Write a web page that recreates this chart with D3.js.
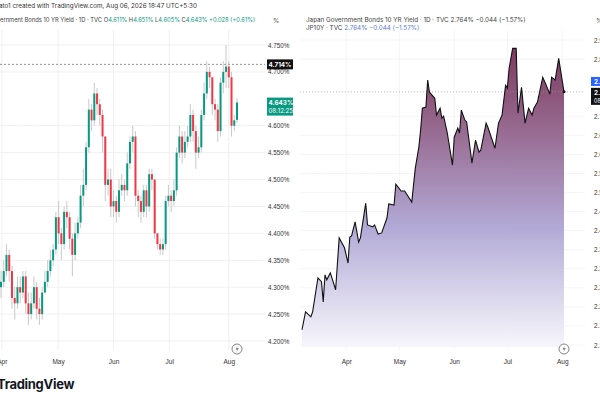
<!DOCTYPE html>
<html><head><meta charset="utf-8">
<script src="https://cdn.jsdelivr.net/npm/d3@7"></script>
<style>body{margin:0;background:#fff;overflow:hidden}svg{display:block;font-family:Inter,"Noto Sans",sans-serif}</style>
</head><body><svg id="c" width="600" height="400"></svg>
<script>
// ---- Left panel: US 10Y candles ----
const opens=[4.30,4.31,4.33,4.36,4.33,4.28,4.27,4.30,4.29,4.32,4.27,4.25,4.27,4.30,4.26,4.25,4.29,4.31,4.33,4.35,4.37,4.43,4.40,4.38,4.44,4.43,4.39,4.36,4.40,4.42,4.47,4.49,4.56,4.63,4.61,4.66,4.64,4.62,4.58,4.49,4.50,4.45,4.46,4.44,4.48,4.49,4.48,4.53,4.57,4.58,4.47,4.46,4.44,4.48,4.45,4.51,4.50,4.40,4.38,4.37,4.38,4.46,4.47,4.46,4.48,4.55,4.58,4.55,4.57,4.58,4.62,4.59,4.55,4.56,4.62,4.66,4.70,4.69,4.64,4.63,4.59,4.68,4.70,4.71,4.69,4.60,4.611];
const closes=[4.31,4.33,4.36,4.33,4.28,4.27,4.30,4.29,4.32,4.27,4.25,4.27,4.30,4.26,4.25,4.29,4.31,4.33,4.35,4.37,4.43,4.40,4.38,4.44,4.43,4.39,4.36,4.40,4.42,4.47,4.49,4.56,4.63,4.61,4.66,4.64,4.62,4.58,4.49,4.50,4.45,4.46,4.44,4.48,4.49,4.48,4.53,4.57,4.58,4.47,4.46,4.44,4.48,4.45,4.51,4.50,4.40,4.38,4.37,4.38,4.46,4.47,4.46,4.48,4.55,4.58,4.55,4.57,4.58,4.62,4.59,4.55,4.56,4.62,4.66,4.70,4.69,4.64,4.63,4.59,4.68,4.70,4.71,4.69,4.60,4.61,4.643];
const highs=[4.33,4.35,4.38,4.37,4.34,4.30,4.32,4.32,4.33,4.33,4.29,4.29,4.32,4.31,4.28,4.30,4.33,4.35,4.37,4.38,4.44,4.46,4.41,4.45,4.46,4.44,4.40,4.42,4.43,4.49,4.52,4.57,4.65,4.64,4.68,4.67,4.65,4.63,4.58,4.52,4.52,4.48,4.47,4.50,4.51,4.50,4.55,4.58,4.60,4.59,4.48,4.47,4.49,4.49,4.52,4.52,4.50,4.40,4.39,4.39,4.47,4.49,4.48,4.50,4.56,4.60,4.59,4.59,4.60,4.64,4.63,4.60,4.58,4.63,4.68,4.72,4.71,4.69,4.65,4.64,4.69,4.72,4.75,4.72,4.70,4.62,4.651];
const lows=[4.28,4.30,4.32,4.31,4.26,4.24,4.26,4.27,4.28,4.25,4.23,4.24,4.26,4.24,4.23,4.24,4.29,4.30,4.32,4.34,4.36,4.38,4.35,4.37,4.41,4.37,4.32,4.35,4.39,4.41,4.45,4.48,4.55,4.59,4.60,4.62,4.60,4.55,4.46,4.47,4.43,4.43,4.42,4.43,4.47,4.46,4.47,4.52,4.55,4.45,4.43,4.42,4.43,4.43,4.44,4.48,4.39,4.37,4.36,4.36,4.37,4.45,4.44,4.45,4.47,4.54,4.53,4.54,4.56,4.57,4.57,4.52,4.54,4.55,4.61,4.65,4.67,4.62,4.61,4.57,4.58,4.66,4.67,4.67,4.58,4.59,4.605];
const leftTicks=[4.20,4.25,4.30,4.35,4.40,4.45,4.50,4.55,4.60,4.70,4.75];
const months=["Apr","May","Jun","Jul","Aug"];
const leftMonthIdx=[0.3,20.8,41,61.3,83];
// ---- Right panel: Japan 10Y line ----
const jpDays=[-25,-23,-20,-19,-16,-14,-13,-12,-11,-9,-6,-4,-1,1,2,3,5,7,8,11,12,15,16,18,20,23,24,27,28,31,33,37,39,41,42,43,45,46,47,50,51,53,54,55,57,60,61,63,64,65,67,68,71,73,75,76,79,80,84,86,88,90,91,92,94,96,97,99,101,103,105,106,108,111,113,115,116,118,120,123];
const jpYield=[2.140,2.187,2.174,2.187,2.276,2.266,2.213,2.284,2.271,2.289,2.245,2.381,2.355,2.315,2.383,2.386,2.423,2.370,2.381,2.472,2.415,2.410,2.415,2.391,2.394,2.433,2.470,2.467,2.522,2.504,2.504,2.475,2.564,2.619,2.664,2.721,2.724,2.795,2.763,2.747,2.703,2.721,2.695,2.700,2.658,2.572,2.645,2.669,2.656,2.716,2.690,2.685,2.577,2.637,2.606,2.611,2.682,2.671,2.616,2.682,2.703,2.781,2.774,2.826,2.878,2.878,2.708,2.776,2.682,2.721,2.703,2.721,2.737,2.802,2.781,2.758,2.802,2.795,2.852,2.764];
const rightMonthDays=[0,30,61,91,122];
const rightTicks=[2.10,2.15,2.20,2.25,2.30,2.35,2.40,2.45,2.50,2.55,2.60,2.65,2.70,2.85,2.90];

const svg=d3.select("#c");
const grid="#f0f0f3", txt="#333", green="#089981", red="#f23645";
const yL=d3.scaleLinear().domain([4.20,4.75]).range([341,45]);
const xL=d3.scaleLinear().domain([0,86]).range([1,237]);
const gL=svg.append("g");
leftTicks.forEach(t=>gL.append("line").attr("x1",0).attr("x2",265).attr("y1",yL(t)).attr("y2",yL(t)).attr("stroke",grid));
leftMonthIdx.forEach(i=>gL.append("line").attr("x1",xL(i)).attr("x2",xL(i)).attr("y1",30).attr("y2",350).attr("stroke",grid));
gL.append("line").attr("x1",0).attr("x2",265).attr("y1",yL(4.714)).attr("y2",yL(4.714)).attr("stroke","#777").attr("stroke-dasharray","2,2").attr("stroke-width",0.8);
closes.forEach((c,i)=>{
  const o=opens[i], col=c>=o?green:red, x=xL(i);
  gL.append("line").attr("x1",x).attr("x2",x).attr("y1",yL(highs[i])).attr("y2",yL(lows[i])).attr("stroke","#bbb").attr("stroke-width",0.8);
  const y0=yL(Math.max(o,c)), h=Math.max(1,Math.abs(yL(o)-yL(c)));
  gL.append("rect").attr("x",x-1).attr("width",2).attr("y",y0).attr("height",h).attr("fill",col);
});
const axL=d3.axisRight(yL).tickValues(leftTicks).tickSize(0).tickFormat(d=>d3.format(".3f")(d)+"%");
svg.append("g").attr("transform","translate(268,0)").call(axL).call(g=>{g.select(".domain").remove();g.selectAll("text").attr("fill",txt).style("font-size","6.3px").attr("x",0);});
const xAxL=d3.axisBottom(xL).tickValues(leftMonthIdx).tickSize(0).tickFormat((d,i)=>months[i]);
svg.append("g").attr("transform","translate(0,356)").call(xAxL).call(g=>{g.select(".domain").remove();g.selectAll("text").attr("fill",txt).style("font-size","6.5px");});
svg.append("rect").attr("x",267).attr("y",yL(4.714)-5).attr("width",26).attr("height",10).attr("fill","#111");
svg.append("text").attr("x",268.5).attr("y",yL(4.714)+2.5).attr("fill","#fff").style("font-size","6.3px").style("font-weight","bold").text("4.714%");
svg.append("rect").attr("x",267).attr("y",yL(4.643)-5).attr("width",26).attr("height",18).attr("fill",green);
svg.append("text").attr("x",268.5).attr("y",yL(4.643)+2.5).attr("fill","#fff").style("font-size","6.3px").style("font-weight","bold").text("4.643%");
svg.append("text").attr("x",268.5).attr("y",yL(4.643)+10.5).attr("fill","#fff").style("font-size","6px").text("08:12:25");
const h1=svg.append("text").attr("y",8).attr("fill","#333").style("font-size","6.3px").text("Tato1 created with TradingView.com, Aug 06, 2026 18:47 UTC+5:30");
const h2=svg.append("text").attr("y",22).attr("fill","#444").style("font-size","5.8px");
const pre=h2.append("tspan").text("United States Gov");
h2.append("tspan").text("ernment Bonds 10 YR Yield · 1D · TVC  ");
[["O","4.611%"],["H","4.651%"],["L","4.605%"],["C","4.643%"]].forEach(([k,v])=>{h2.append("tspan").text(k);h2.append("tspan").attr("fill",green).text(v+" ");});
h2.append("tspan").attr("fill",green).text(" +0.028 (+0.61%)");
h2.attr("x",-pre.node().getComputedTextLength());
h1.attr("x",-h1.node().getSubStringLength(0,1)-1);
svg.append("text").attr("x",273).attr("y",23).attr("fill","#555").style("font-size","6.3px").text("%");

const yR=d3.scaleLinear().domain([2.10,2.90]).range([345,40]);
const xR=d3.scaleLinear().domain([-25,123]).range([302,564]);
const gR=svg.append("g");
rightTicks.forEach(t=>gR.append("line").attr("x1",300).attr("x2",585).attr("y1",yR(t)).attr("y2",yR(t)).attr("stroke","#f5f5f8"));
rightMonthDays.forEach(d=>gR.append("line").attr("x1",xR(d)).attr("x2",xR(d)).attr("y1",30).attr("y2",350).attr("stroke","#f5f5f8"));
const defs=svg.append("defs");
const gr=defs.append("linearGradient").attr("id","ga").attr("x1",0).attr("x2",0).attr("y1",0).attr("y2",1);
[[0,"#7d3a5e"],[0.3,"#9a6f96"],[0.6,"#b2aad6"],[1,"#f7f6fc"]].forEach(([o,c])=>gr.append("stop").attr("offset",o).attr("stop-color",c));
const pts=jpDays.map((d,i)=>[d,jpYield[i]]);
gR.append("path").datum(pts).attr("fill","url(#ga)").attr("d",d3.area().x(d=>xR(d[0])).y0(347).y1(d=>yR(d[1])));
gR.append("line").attr("x1",300).attr("x2",585).attr("y1",yR(2.764)).attr("y2",yR(2.764)).attr("stroke","#999").attr("stroke-dasharray","1,2").attr("stroke-width",0.7);
gR.append("path").datum(pts).attr("fill","none").attr("stroke","#111").attr("stroke-width",1.1).attr("d",d3.line().x(d=>xR(d[0])).y(d=>yR(d[1])));
gR.append("circle").attr("cx",xR(123)).attr("cy",yR(2.764)).attr("r",1.5).attr("fill","#111");
const axR=d3.axisRight(yR).tickValues(rightTicks).tickSize(0).tickFormat(d=>d3.format(".3f")(d)+"%");
svg.append("g").attr("transform","translate(594,0)").call(axR).call(g=>{g.select(".domain").remove();g.selectAll("text").attr("fill",txt).style("font-size","6.3px").attr("x",0);});
const xAxR=d3.axisBottom(xR).tickValues(rightMonthDays).tickSize(0).tickFormat((d,i)=>months[i]);
svg.append("g").attr("transform","translate(0,356)").call(xAxR).call(g=>{g.select(".domain").remove();g.selectAll("text").attr("fill",txt).style("font-size","6.5px");});
svg.append("rect").attr("x",591).attr("y",yR(2.79)-5).attr("width",12).attr("height",9).attr("fill","#2962ff");
svg.append("text").attr("x",594).attr("y",yR(2.79)+2).attr("fill","#fff").style("font-size","6.3px").style("font-weight","bold").text("2.790%");
svg.append("rect").attr("x",591).attr("y",yR(2.764)-4).attr("width",12).attr("height",17).attr("fill","#111");
svg.append("text").attr("x",594).attr("y",yR(2.764)+3).attr("fill","#fff").style("font-size","6.3px").style("font-weight","bold").text("2.764%");
svg.append("text").attr("x",594).attr("y",yR(2.764)+11).attr("fill","#fff").style("font-size","5.5px").text("08:12");
const r1=svg.append("text").attr("x",306).attr("y",22).attr("fill","#444").style("font-size","6.3px");
r1.append("tspan").text("Japan Government Bonds 10 YR Yield · 1D · TVC  2.764%  −0.044 (−1.57%)");
const r2=svg.append("text").attr("x",306).attr("y",30).attr("fill","#444").style("font-size","6.3px");
r2.append("tspan").text("JP10Y · TVC  ");
r2.append("tspan").attr("fill","#5b7bd5").text("2.764%  −0.044 (−1.57%)");
svg.append("text").attr("x",596).attr("y",23).attr("fill","#555").style("font-size","6.3px").text("%");
[[237,349],[564,349]].forEach(([x,y])=>{
  svg.append("circle").attr("cx",x).attr("cy",y).attr("r",5).attr("fill","#fff").attr("stroke","#666").attr("stroke-width",0.8);
  svg.append("path").attr("d",`M${x+1},${y-3.5} L${x-1.5},${y+0.5} L${x+0.5},${y+0.5} L${x-1},${y+3.5} L${x+1.8},${y-0.8} L${x-0.2},${y-0.8} Z`).attr("fill","#666");
});
svg.append("text").attr("x",-3).attr("y",389).attr("fill","#131722").style("font-size","13px").style("font-weight","700").style("letter-spacing","-0.3px").text("TradingView");
</script></body></html>
